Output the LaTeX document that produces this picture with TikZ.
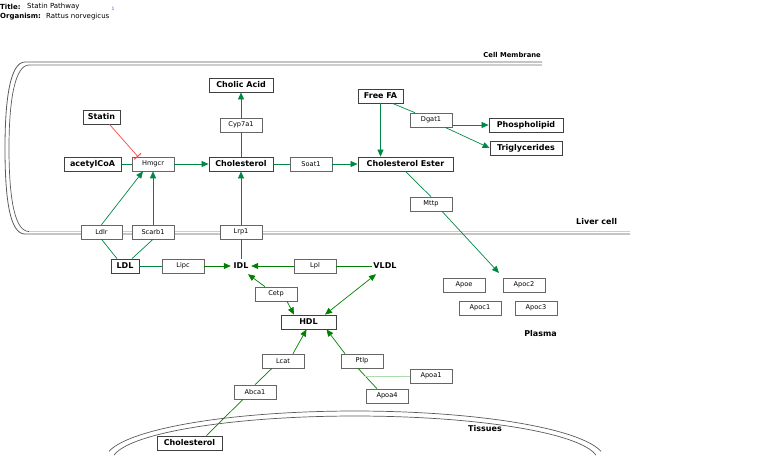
\documentclass[tikz,border=0pt]{standalone}
\usepackage{fontspec}
\setmainfont{DejaVu Sans}
\usetikzlibrary{arrows.meta,shadows,calc}
\definecolor{pvg}{RGB}{0,135,70}
\definecolor{plg}{RGB}{0,128,0}
\definecolor{ltg}{RGB}{175,220,175}
\definecolor{inh}{RGB}{255,70,70}
\definecolor{memdark}{RGB}{90,90,90}
\definecolor{memlight}{RGB}{205,205,205}
\begin{document}
\begin{tikzpicture}[x=1pt,y=-1pt,
  shad/.style={general shadow={fill=black!22, shadow xshift=1.3pt, shadow yshift=-1.3pt}},
  met/.style={draw=black!75, line width=0.8pt, fill=white, minimum height=14pt, inner sep=0pt,
    font=\fontsize{8}{9}\bfseries\selectfont, shad},
  gene/.style={draw=black!60, line width=0.6pt, fill=white, minimum width=42pt, minimum height=14pt,
    inner sep=0pt, font=\fontsize{6.6}{7}\selectfont, shad},
  plain/.style={minimum height=14pt, inner sep=0pt, font=\fontsize{8}{9}\bfseries\selectfont},
  lbl/.style={inner sep=0pt, font=\fontsize{8}{9}\bfseries\selectfont},
  ln/.style={draw=pvg, line width=0.7pt},
  arr/.style={ln, -{Triangle[length=7pt,width=6pt]}},
  pln/.style={draw=plg, line width=0.7pt},
  parr/.style={pln, -{Triangle[length=7pt,width=6pt]}},
]
\useasboundingbox (0,0) rectangle (760,467);

% title
\node[anchor=west, inner sep=0pt, font=\fontsize{7}{8}\bfseries\selectfont] (tt) at (0,7) {Title:};
\node[anchor=west, inner sep=0pt, font=\fontsize{7}{8}\selectfont] (ttv) at (27,7) {Statin Pathway};
\node[anchor=west, inner sep=0pt, font=\fontsize{7}{8}\bfseries\selectfont] (org) at (0,17) {Organism:};
\node[anchor=west, inner sep=0pt, font=\fontsize{7}{8}\selectfont] (orgv) at (46,17) {Rattus norvegicus};
\node[inner sep=0pt, font=\fontsize{4.5}{5}\selectfont, text={rgb,255:red,80;green,80;blue,200}] (one) at (113,9) {1};

% cell membrane
\draw[memdark, line width=0.8pt] (542,62) -- (25,62) .. controls (10,62) and (5,100) .. (5,148)
  .. controls (5,200) and (10,234) .. (25,234) -- (630,234);
\draw[memlight, line width=1.4pt] (542,65) -- (29,65);
\draw[memlight, line width=1.4pt] (29,231.5) -- (630,231.5);
\draw[memdark, line width=0.7pt] (29,65) .. controls (15,65) and (9,100) .. (9,148)
  .. controls (9,200) and (15,231.5) .. (29,231.5);
\node[anchor=east, inner sep=0pt, font=\fontsize{6.8}{7}\bfseries\selectfont] (cm) at (541,55) {Cell Membrane};
\node[lbl, anchor=west] (liver) at (576,222) {Liver cell};
\node[lbl] (plasma) at (540.5,334) {Plasma};
\node[lbl] (tissues) at (485,429) {Tissues};

% tissue arcs
\draw[memdark, line width=0.7pt] plot[domain=169.8:10.2, samples=80] ({355+250*cos(\x)},{460-49*sin(\x)});
\draw[memdark, line width=0.7pt] plot[domain=172.6:7.4, samples=80] ({355+243*cos(\x)},{461-45*sin(\x)});

% nodes
\node[met, minimum width=37pt] (statin) at (101.5,117) {Statin};
\node[met, minimum width=57pt] (acetyl) at (92.5,164) {acetylCoA};
\node[gene] (hmgcr) at (153,164) {Hmgcr};
\node[met, minimum width=64pt] (chol) at (241,164) {Cholesterol};
\node[met, minimum width=64pt] (cholic) at (241,85) {Cholic Acid};
\node[gene] (cyp) at (241,125) {Cyp7a1};
\node[gene] (soat) at (311,164) {Soat1};
\node[met, minimum width=95pt] (ester) at (405.5,164) {Cholesterol Ester};
\node[met, minimum width=45pt] (freefa) at (380.5,96) {Free FA};
\node[gene] (dgat) at (431,120) {Dgat1};
\node[met, minimum width=74pt] (phos) at (526,125) {Phospholipid};
\node[met, minimum width=72pt] (trig) at (526,148) {Triglycerides};
\node[gene] (mttp) at (431,204) {Mttp};
\node[gene, minimum width=41pt] (ldlr) at (101.5,232) {Ldlr};
\node[gene] (scarb) at (153,232) {Scarb1};
\node[gene] (lrp) at (241,232) {Lrp1};
\node[met, minimum width=28pt] (ldl) at (125,266) {LDL};
\node[gene] (lipc) at (183,266) {Lipc};
\node[plain, minimum width=20pt] (idl) at (241,266) {IDL};
\node[gene] (lpl) at (315,266) {Lpl};
\node[plain, minimum width=26pt] (vldl) at (385,266) {VLDL};
\node[gene] (cetp) at (276,294) {Cetp};
\node[met, minimum width=55pt] (hdl) at (308.5,322) {HDL};
\node[gene] (lcat) at (283,361) {Lcat};
\node[gene] (ptlp) at (362,361) {Ptlp};
\node[gene] (apoa1) at (431,376) {Apoa1};
\node[gene] (apoa4) at (387,396) {Apoa4};
\node[gene] (abca) at (255,392) {Abca1};
\node[met, minimum width=65pt] (ctis) at (189.5,443) {Cholesterol};
\node[gene] (apoe) at (464,285) {Apoe};
\node[gene] (apoc2) at (524,285) {Apoc2};
\node[gene] (apoc1) at (480,308) {Apoc1};
\node[gene] (apoc3) at (536,308) {Apoc3};
\coordinate (mttpend) at (499,273);

% liver edges
\draw[ln] (acetyl.east) -- (hmgcr.west);
\draw[arr] (hmgcr.east) -- (chol.west);
\draw[draw=inh, line width=0.7pt, -{Bar[width=9pt, line width=1pt]}] ($(statin.south)+(8,0)$) -- ($(hmgcr.north)+(-15,0)$);
\draw[ln] (chol.north) -- (cyp.south);
\draw[arr] (cyp.north) -- (cholic.south);
\draw[ln] (chol.east) -- (soat.west);
\draw[arr] (soat.east) -- (ester.west);
\draw[arr] (freefa.south) -- (freefa.south |- ester.north);
\draw[ln] ($(freefa.south)+(12,0)$) -- ($(dgat.north)+(-16,0)$);
\draw[arr] (dgat.east |- phos.west) -- (phos.west);
\draw[arr] ($(dgat.south)+(14,0)$) -- (trig.west);
\draw[ln] (ester.south) -- (mttp.north);
\draw[arr] ($(mttp.south)+(11,0)$) -- (mttpend);
\draw[arr] (ldlr.north) -- ($(hmgcr.south)+(-10,0)$);
\draw[arr] (scarb.north) -- (hmgcr.south);
\draw[arr] (lrp.north) -- (chol.south);

% plasma edges
\draw[ln] ($(ldl.north)+(-8,0)$) -- (ldlr.south);
\draw[ln] ($(ldl.north)+(7,0)$) -- (scarb.south);
\draw[ln] (idl.north) -- (lrp.south);
\draw[ln] (ldl.east) -- (lipc.west);
\draw[parr] (lipc.east) -- (idl.west);
\draw[pln] (vldl.west) -- (lpl.east);
\draw[parr] (lpl.west) -- (idl.east);
\draw[parr] ($(cetp.north)+(-11,0)$) -- ($(idl.south)+(7,1)$);
\draw[parr] ($(cetp.south)+(11,0)$) -- ($(hdl.north)+(-14.5,0)$);
\draw[pln, {Triangle[length=7pt,width=6pt]}-{Triangle[length=7pt,width=6pt]}] ($(hdl.north)+(16.5,0)$) -- ($(vldl.south)+(-9,1)$);
\draw[parr] ($(lcat.north)+(10,0)$) -- ($(hdl.south)+(-2,0)$);
\draw[parr] ($(ptlp.north)+(-17,0)$) -- ($(hdl.south)+(18,0)$);
\draw[pln] ($(abca.north)$) -- ($(lcat.south)+(-11,0)$);
\draw[pln] ($(ctis.north)+(17,0)$) -- ($(abca.south)+(-12,0)$);
\coordinate (pa1) at ($(ptlp.south)+(-4,0)$);
\coordinate (pa2) at ($(apoa4.north)+(-10,0)$);
\draw[pln] (pa1) -- (pa2);
\coordinate (pam) at ($(pa1)!0.38!(pa2)$);
\draw[draw=ltg, line width=1pt] (pam) -- (pam -| apoa1.west);
\end{tikzpicture}
\end{document}
